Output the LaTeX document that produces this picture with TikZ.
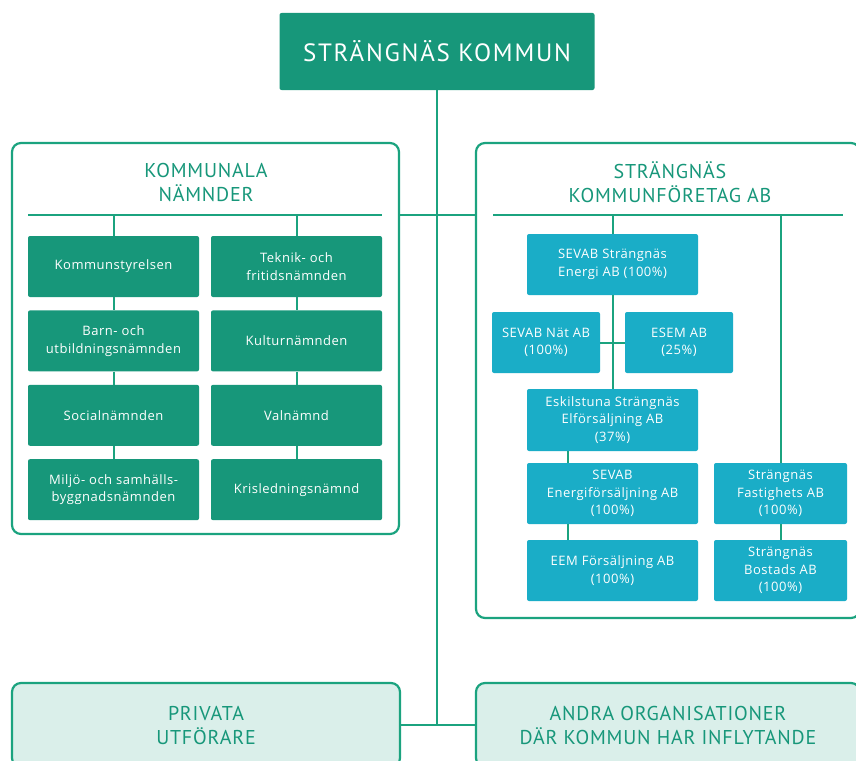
\documentclass[tikz,border=0pt]{standalone}
\usepackage{fontspec}
\setmainfont{Open Sans}
\newfontfamily\headfont[LetterSpace=4]{PT Sans}
\newfontfamily\topfont[LetterSpace=7]{PT Sans}
\newfontfamily\boxfont[LetterSpace=4]{Open Sans}
\usetikzlibrary{positioning}
\definecolor{kgreen}{HTML}{17977A}
\definecolor{kline}{HTML}{1BA37F}
\definecolor{kcyan}{HTML}{1AADC7}
\definecolor{kpale}{HTML}{DAEFEA}
\begin{document}
\begin{tikzpicture}[x=1pt,y=-1pt,
    nbox/.style={rectangle,rounded corners=2pt,fill=kgreen,text=white,align=center,
      minimum width=171pt,minimum height=61pt,inner sep=2pt,
      font=\boxfont\fontsize{13}{17.5}\selectfont},
    fbox/.style={nbox,fill=kcyan},
    group/.style={draw=kline,line width=2.2pt,rounded corners=9pt,fill=white},
    outer/.style={group,fill=kpale,text=kgreen,align=center,
      font=\headfont\fontsize{20}{24}\selectfont},
    head/.style={text=kgreen,align=center,font=\headfont\fontsize{20}{24}\selectfont},
    conn/.style={draw=kline,line width=2pt}]
    \useasboundingbox (0,0) rectangle (856,760);
    % frames
    \node[group,minimum width=387pt,minimum height=391pt] (nam) at (205.5,338.5) {};
    \node[group,minimum width=384pt,minimum height=475pt] (ftg) at (668,380.5) {};
    \node[outer,minimum width=388pt,minimum height=84pt] (priv) at (206,725) {PRIVATA\\UTFÖRARE};
    \node[outer,minimum width=384pt,minimum height=84pt] (andra) at (668,725) {ANDRA ORGANISATIONER\\DÄR KOMMUN HAR INFLYTANDE};
    \node[head] (namt) at (206,182) {KOMMUNALA\\NÄMNDER};
    \node[head] (ftgt) at (670,182) {STRÄNGNÄS\\KOMMUNFÖRETAG AB};
    \node[nbox,minimum width=315pt,minimum height=77pt,font=\topfont\fontsize{25}{28}\selectfont] (kom) at (437,51.5) {STRÄNGNÄS KOMMUN};
    \coordinate (hub) at (437,215);
    \coordinate (nams) at (28,215);
    \coordinate (name) at (382,215);
    \coordinate (ftgs) at (493,215);
    \coordinate (ftge) at (843,215);
    % main lines
    \draw[conn] (kom) -- (kom |- priv.east);
    \draw[conn] (nam.east |- hub) -- (ftg.west |- hub);
    \draw[conn] (priv) -- (andra);
    \draw[conn] (nams) -- (name);
    \draw[conn] (ftgs) -- (ftge);
    % kommunala namnder
    \node[nbox] (ks) at (113.5,266.5) {Kommunstyrelsen};
    \node[nbox,below=13pt of ks] (bun) {Barn- och\\utbildningsnämnden};
    \node[nbox,below=13pt of bun] (soc) {Socialnämnden};
    \node[nbox,below=13pt of soc] (msn) {Miljö- och samhälls-\\byggnadsnämnden};
    \node[nbox] (tfn) at (296.5,266.5) {Teknik- och\\fritidsnämnden};
    \node[nbox,below=13pt of tfn] (kul) {Kulturnämnden};
    \node[nbox,below=13pt of kul] (val) {Valnämnd};
    \node[nbox,below=13pt of val] (kris) {Krisledningsnämnd};
    \draw[conn] (ks.north |- nams) -- (ks);
    \draw[conn] (ks) -- (bun);
    \draw[conn] (bun) -- (soc);
    \draw[conn] (soc) -- (msn);
    \draw[conn] (tfn.north |- nams) -- (tfn);
    \draw[conn] (tfn) -- (kul);
    \draw[conn] (kul) -- (val);
    \draw[conn] (val) -- (kris);
    % kommunforetag
    \node[fbox] (sen) at (612.5,264.5) {SEVAB Strängnäs\\Energi AB (100\%)};
    \node[fbox,minimum width=108pt] (nat) at (546,342.5) {SEVAB Nät AB\\(100\%)};
    \node[fbox,minimum width=108pt] (esem) at (679,342.5) {ESEM AB\\(25\%)};
    \node[fbox,minimum height=62pt] (esk) at (612.5,420) {Eskilstuna Strängnäs\\Elförsäljning AB\\(37\%)};
    \node[fbox] (sef) at (612.5,493.5) {SEVAB\\Energiförsäljning AB\\(100\%)};
    \node[fbox] (eem) at (612.5,570.5) {EEM Försäljning AB\\(100\%)};
    \node[fbox,minimum width=133pt] (fast) at (780.5,493.5) {Strängnäs\\Fastighets AB\\(100\%)};
    \node[fbox,minimum width=133pt] (bost) at (780.5,570.5) {Strängnäs\\Bostads AB\\(100\%)};
    \draw[conn] (sen.north |- ftgs) -- (sen);
    \draw[conn] (sen) -- (esk);
    \draw[conn] (nat) -- (esem);
    \draw[conn] ([xshift=-45pt]esk.south) -- ([xshift=-45pt]sef.north);
    \draw[conn] ([xshift=-45pt]sef.south) -- ([xshift=-45pt]eem.north);
    \draw[conn] (fast.north |- ftgs) -- (fast);
    \draw[conn] (fast) -- (bost);
\end{tikzpicture}
\end{document}
